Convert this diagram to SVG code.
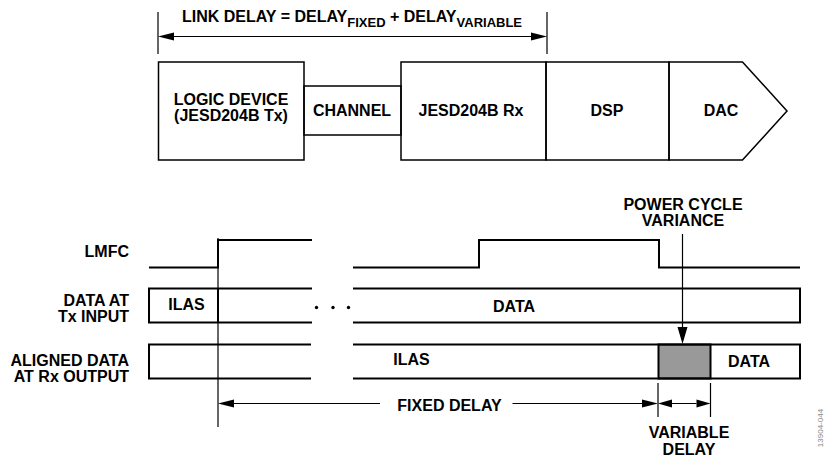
<svg xmlns="http://www.w3.org/2000/svg" width="825" height="458" viewBox="0 0 825 458">
<style>
.t{font-family:"Liberation Sans",Arial,sans-serif;font-weight:bold;font-size:16px;fill:#000}
.m{text-anchor:middle}
.e{text-anchor:end}
.box{fill:none;stroke:#000;stroke-width:1.5}
.sig{fill:none;stroke:#000;stroke-width:2}
.thin{fill:none;stroke:#000;stroke-width:1.2}
.ah{fill:#000;stroke:none}
</style>
<rect width="825" height="458" fill="#fff"/>

<g id="link-delay">
  <path class="thin" d="M158,12V54M547,12V54M174,36.5H531"/>
  <polygon class="ah" points="158,36.5 174,32.5 174,40.5"/>
  <polygon class="ah" points="547,36.5 531,32.5 531,40.5"/>
  <text class="t" x="182" y="22" font-size="16.3">LINK DELAY = DELAY<tspan font-size="13" dy="4.5">FIXED</tspan><tspan dy="-4.5"> + DELAY</tspan><tspan font-size="13" dy="4.5">VARIABLE</tspan></text>
</g>

<g id="logic-device">
  <rect class="box" x="158.5" y="62" width="145.5" height="98"/>
  <text class="t m" x="231" y="105">LOGIC DEVICE</text>
  <text class="t m" x="231" y="120.5">(JESD204B Tx)</text>
</g>
<g id="channel">
  <rect class="box" x="304" y="86" width="97" height="49"/>
  <text class="t m" x="352" y="116">CHANNEL</text>
</g>
<g id="jesd-rx">
  <rect class="box" x="401" y="62" width="145" height="98"/>
  <text class="t m" x="471" y="116">JESD204B Rx</text>
</g>
<g id="dsp">
  <rect class="box" x="546" y="62" width="123" height="98"/>
  <text class="t m" x="607" y="116">DSP</text>
</g>
<g id="dac">
  <path class="box" d="M669,62H742.5L787,111L742.5,160H669Z"/>
  <text class="t m" x="721" y="116">DAC</text>
</g>

<g id="labels">
  <text class="t e" x="129" y="257">LMFC</text>
  <text class="t e" x="129" y="306">DATA AT</text>
  <text class="t e" x="129" y="321.5">Tx INPUT</text>
  <text class="t e" x="129" y="366">ALIGNED DATA</text>
  <text class="t e" x="129" y="381.5">AT Rx OUTPUT</text>
</g>

<g id="lmfc">
  <path class="sig" d="M149,267.5H218V240H312M353,267.5H479V240H659V267.5H800"/>
</g>

<g id="tx-data">
  <path class="sig" d="M312,288.5H149V322.5H312M353,288.5H800V322.5H353M218,288.5V322.5"/>
  <circle cx="316.5" cy="307.5" r="1.7"/>
  <circle cx="333" cy="307.5" r="1.7"/>
  <circle cx="348.5" cy="307.5" r="1.7"/>
  <text class="t m" x="186.5" y="309.5">ILAS</text>
  <text class="t m" x="514" y="311.5">DATA</text>
</g>

<g id="rx-data">
  <rect x="658.5" y="344.5" width="52" height="34" fill="#999" stroke="#000" stroke-width="2"/>
  <path class="sig" d="M311,344.5H149V378.5H311M353,344.5H800V378.5H353"/>
  <text class="t m" x="411.5" y="365">ILAS</text>
  <text class="t m" x="749" y="366.5">DATA</text>
</g>

<g id="power-cycle">
  <text class="t m" x="683" y="210">POWER CYCLE</text>
  <text class="t m" x="683" y="226">VARIANCE</text>
</g>

<g id="connectors">
  <path class="thin" d="M218,238V427"/>
  <path class="thin" d="M682.5,234V329"/>
  <polygon class="ah" points="682.5,344 677.5,327 687.5,327"/>
  <path class="thin" d="M234,403.5H380M512.5,403.5H642"/>
  <polygon class="ah" points="218,403.5 234,399.5 234,407.5"/>
  <polygon class="ah" points="658,403.5 642,399.5 642,407.5"/>
  <path class="thin" d="M658,383V417M710.5,383V417M672,403.5H696.5"/>
  <polygon class="ah" points="658,403.5 672,399.5 672,407.5"/>
  <polygon class="ah" points="710.5,403.5 696.5,399.5 696.5,407.5"/>
</g>

<g id="fixed-delay">
  <text class="t m" x="449.5" y="410.5">FIXED DELAY</text>
</g>
<g id="variable-delay">
  <text class="t m" x="689" y="438">VARIABLE</text>
  <text class="t m" x="689" y="455">DELAY</text>
</g>

<text x="822.5" y="428" transform="rotate(-90 822.5 428)" text-anchor="middle" font-family="Liberation Sans,Arial,sans-serif" font-size="8" fill="#888">13904-044</text>
</svg>
